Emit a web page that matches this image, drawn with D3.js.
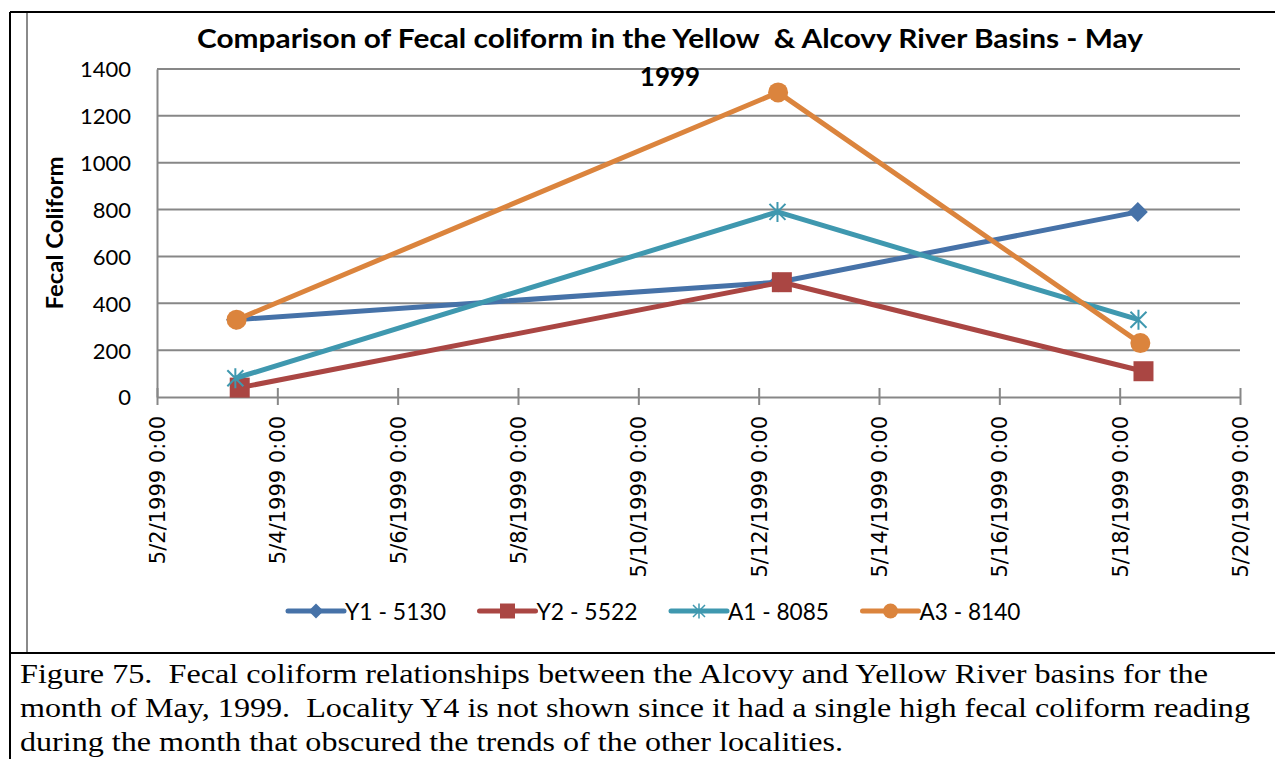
<!DOCTYPE html>
<html>
<head>
<meta charset="utf-8">
<script src="https://cdn.jsdelivr.net/npm/d3@7"></script>
<style>
  html, body { margin: 0; padding: 0; background: #fff; }
  svg { display: block; }
  text { white-space: pre; }
</style>
</head>
<body>
<svg id="chart" width="1275" height="759"></svg>
<script>
// ---- data ----
const titleLines = ["Comparison of Fecal coliform in the Yellow  & Alcovy River Basins - May", "1999"];
const yAxisTitle = "Fecal Coliform";
const seriesNames = ["Y1 - 5130", "Y2 - 5522", "A1 - 8085", "A3 - 8140"];
const seriesColors = ["#4672A8", "#AA4643", "#3F98AF", "#DB843D"];
const seriesMarkers = ["diamond", "square", "asterisk", "circle"];
const y1Dates = ["1999-05-03T07:30", "1999-05-12T07:45", "1999-05-18T07:15"];
const y1Values = [330, 490, 790];
const y2Dates = ["1999-05-03T09:00", "1999-05-12T09:15", "1999-05-18T09:30"];
const y2Values = [40, 490, 110];
const a1Dates = ["1999-05-03T07:15", "1999-05-12T07:30", "1999-05-18T07:30"];
const a1Values = [80, 790, 330];
const a3Dates = ["1999-05-03T07:45", "1999-05-12T07:45", "1999-05-18T08:15"];
const a3Values = [330, 1300, 230];
const xTickDates = ["1999-05-02", "1999-05-04", "1999-05-06", "1999-05-08", "1999-05-10",
                    "1999-05-12", "1999-05-14", "1999-05-16", "1999-05-18", "1999-05-20"];
const yTickValues = [0, 200, 400, 600, 800, 1000, 1200, 1400];
const captionLines = [
  "Figure 75.  Fecal coliform relationships between the Alcovy and Yellow River basins for the",
  "month of May, 1999.  Locality Y4 is not shown since it had a single high fecal coliform reading",
  "during the month that obscured the trends of the other localities."
];

// ---- build ----
const parseT = d3.timeParse("%Y-%m-%dT%H:%M");
const parseD = d3.timeParse("%Y-%m-%d");
const fmt = d3.timeFormat("%-m/%-d/%Y %-H:%M");
const allDates = [y1Dates, y2Dates, a1Dates, a3Dates];
const allValues = [y1Values, y2Values, a1Values, a3Values];
const series = seriesNames.map((name, i) => ({
  name, color: seriesColors[i], marker: seriesMarkers[i],
  points: allDates[i].map((d, j) => ({ t: parseT(d), v: allValues[i][j] }))
}));
const xTicks = xTickDates.map(parseD);

const svg = d3.select("#chart");
const x = d3.scaleTime().domain([xTicks[0], xTicks[xTicks.length - 1]]).range([157, 1240]);
const y = d3.scaleLinear().domain([0, 1400]).range([397, 69]);

// frame lines
svg.append("line").attr("x1", 10).attr("x2", 10).attr("y1", 12).attr("y2", 759)
  .attr("stroke", "#000").attr("stroke-width", 2);
svg.append("line").attr("x1", 10).attr("x2", 1275).attr("y1", 12).attr("y2", 12)
  .attr("stroke", "#000").attr("stroke-width", 2);
svg.append("line").attr("x1", 10).attr("x2", 1275).attr("y1", 653).attr("y2", 653)
  .attr("stroke", "#000").attr("stroke-width", 2);
svg.append("line").attr("x1", 27).attr("x2", 27).attr("y1", 13).attr("y2", 652)
  .attr("stroke", "#8a8a8a").attr("stroke-width", 2);

// gridlines
svg.append("g").selectAll("line").data(yTickValues.filter(v => v > 0)).join("line")
  .attr("x1", x.range()[0]).attr("x2", x.range()[1])
  .attr("y1", d => y(d)).attr("y2", d => y(d))
  .attr("stroke", "#878787").attr("stroke-width", 2);

// y axis
const yAxis = d3.axisLeft(y).tickValues(yTickValues).tickFormat(d3.format("d"))
  .tickSize(0).tickPadding(26);
const gy = svg.append("g").attr("transform", `translate(${x.range()[0]},0)`).call(yAxis);
gy.select(".domain").attr("stroke", "#878787").attr("stroke-width", 2);
gy.selectAll("text").attr("font-family", "Lato, 'Open Sans', sans-serif")
  .attr("font-size", 22).attr("fill", "#000").attr("dy", "0.36em");

// x axis
const xAxis = d3.axisBottom(x).tickValues(xTicks).tickFormat(fmt).tickSize(8).tickSizeOuter(0);
const gx = svg.append("g").attr("transform", `translate(0,${y(0)})`).call(xAxis);
gx.select(".domain").attr("stroke", "#878787").attr("stroke-width", 2);
gx.selectAll(".tick line").attr("stroke", "#878787").attr("stroke-width", 2)
  .attr("y1", -9).attr("y2", 8);
gx.selectAll(".tick text")
  .attr("font-family", "'DejaVu Sans', Verdana, sans-serif").attr("font-size", 21)
  .attr("fill", "#000")
  .attr("transform", "rotate(-90)")
  .attr("text-anchor", "end")
  .attr("x", -19).attr("y", 0).attr("dy", "0.36em");

// series lines
const line = d3.line().x(d => x(d.t)).y(d => y(d.v));

function markerPath(type, size) {
  const s = size / 2;
  if (type === "diamond") return `M0,${-s}L${s},0L0,${s}L${-s},0Z`;
  if (type === "square") return `M${-s},${-s}H${s}V${s}H${-s}Z`;
  if (type === "asterisk") {
    const d = s * 0.8;
    return `M0,${-s}V${s}M${-d},${-d}L${d},${d}M${-d},${d}L${d},${-d}`;
  }
  return d3.symbol(d3.symbolCircle, Math.PI * s * s)();
}

series.forEach(sr => {
  const g = svg.append("g");
  g.append("path").datum(sr.points).attr("d", line)
    .attr("fill", "none").attr("stroke", sr.color).attr("stroke-width", 5)
    .attr("stroke-linejoin", "round");
  g.selectAll("path.m").data(sr.points).join("path").attr("class", "m")
    .attr("transform", d => `translate(${x(d.t)},${y(d.v)})`)
    .attr("d", markerPath(sr.marker, 20))
    .attr("fill", sr.marker === "asterisk" ? "none" : sr.color)
    .attr("stroke", sr.color)
    .attr("stroke-width", sr.marker === "asterisk" ? 2 : 0);
});

// title
const title = svg.append("g").attr("font-family", "Lato, 'Open Sans', sans-serif")
  .attr("font-weight", "bold").attr("font-size", 26).attr("fill", "#000");
title.append("text").attr("x", 197).attr("y", 48).attr("textLength", 946)
  .attr("lengthAdjust", "spacingAndGlyphs").attr("xml:space", "preserve").text(titleLines[0]);
title.append("text").attr("x", 670).attr("y", 86).attr("text-anchor", "middle").text(titleLines[1]);

// y axis title
svg.append("text").attr("transform", "translate(63,233) rotate(-90)")
  .attr("text-anchor", "middle").attr("font-family", "Lato, 'Open Sans', sans-serif")
  .attr("font-weight", "bold").attr("font-size", 23).attr("textLength", 153)
  .attr("lengthAdjust", "spacingAndGlyphs").text(yAxisTitle);

// legend
const legend = svg.append("g");
series.forEach((sr, i) => {
  const x0 = 288 + i * 191.5, yc = 611;
  const g = legend.append("g").attr("transform", `translate(${x0},${yc})`);
  g.append("line").attr("x1", 0).attr("x2", 56).attr("stroke", sr.color)
    .attr("stroke-width", 5).attr("stroke-linecap", "round");
  g.append("path").attr("transform", "translate(28,0)")
    .attr("d", markerPath(sr.marker, 15))
    .attr("fill", sr.marker === "asterisk" ? "none" : sr.color)
    .attr("stroke", sr.color).attr("stroke-width", sr.marker === "asterisk" ? 1.5 : 0);
  g.append("text").attr("x", 57).attr("dy", "0.36em")
    .attr("font-family", "Lato, 'Open Sans', sans-serif").attr("font-size", 24)
    .attr("textLength", 101).attr("lengthAdjust", "spacingAndGlyphs")
    .text(sr.name);
});

// caption
const capLens = [1188, 1230, 823];
const capBase = [683, 717, 751];
captionLines.forEach((t, i) => {
  svg.append("text").attr("x", 20).attr("y", capBase[i])
    .attr("font-family", "'Liberation Serif', 'Times New Roman', Times, serif")
    .attr("font-size", 28).attr("fill", "#000")
    .attr("textLength", capLens[i]).attr("lengthAdjust", "spacingAndGlyphs")
    .attr("xml:space", "preserve")
    .text(t);
});
</script>
</body>
</html>
